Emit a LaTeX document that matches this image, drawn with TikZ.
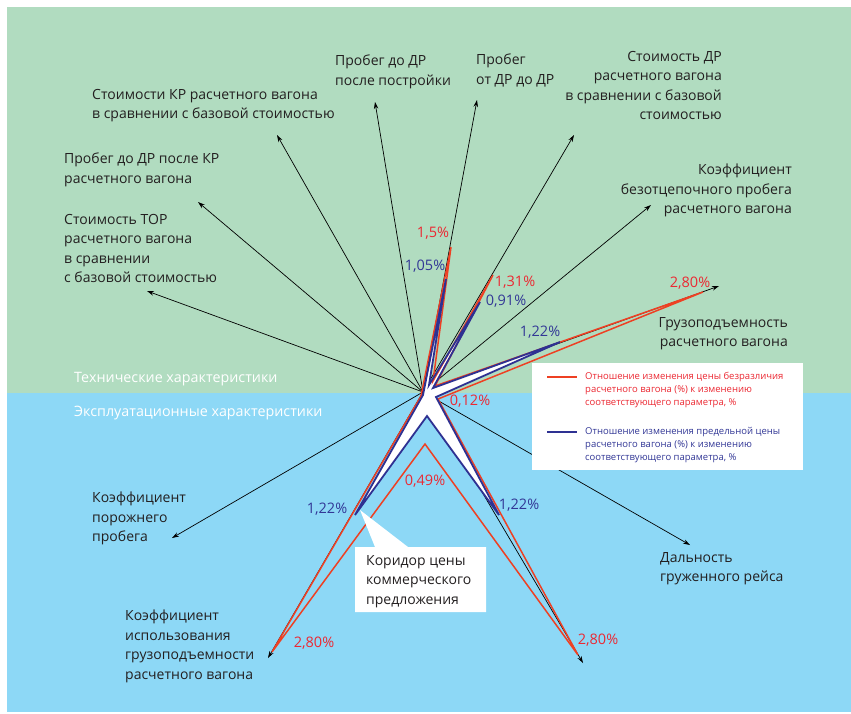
\documentclass[tikz,border=0pt]{standalone}
\usepackage{fontspec}
\setmainfont{Open Sans}
\usetikzlibrary{arrows.meta}
\definecolor{bggreen}{RGB}{177,220,192}
\definecolor{bgblue}{RGB}{141,216,246}
\definecolor{linered}{RGB}{238,64,35}
\definecolor{lineblue}{RGB}{46,49,146}
\definecolor{txtred}{RGB}{236,40,50}
\definecolor{txtblue}{RGB}{50,55,150}
\definecolor{txtdark}{RGB}{35,31,32}
\tikzset{
  lbl/.style={font=\fontsize{14}{19.5}\selectfont, text=txtdark, inner sep=0pt},
  lblL/.style={lbl, anchor=north west, align=left},
  lblR/.style={lbl, anchor=north east, align=right},
  sect/.style={font=\fontsize{14.3}{16}\selectfont, text=white, inner sep=0pt, anchor=north west},
  pr/.style={font=\fontsize{14.5}{16}\selectfont, text=txtred, inner sep=0pt},
  pb/.style={font=\fontsize{14.5}{16}\selectfont, text=txtblue, inner sep=0pt},
  axisline/.style={draw=black, line width=0.7pt, -{Stealth[length=7pt,width=4.5pt]}},
  redpoly/.style={draw=linered, line width=1.5pt, line join=miter},
  bluepoly/.style={draw=lineblue, line width=1.8pt, line join=miter},
  legtxt/.style={font=\fontsize{9.5}{13}\selectfont, inner sep=0pt, anchor=north west, align=left},
}
\begin{document}
\begin{tikzpicture}[x=1pt,y=-1pt]
\useasboundingbox (0,0) rectangle (851,713);
% background
\fill[bggreen] (7,7) rectangle (851,393);
\fill[bgblue] (7,393) rectangle (851,712);
% centre and axis ends
\coordinate (c) at (423,392);
\coordinate (apost) at (375,102);
\coordinate (aot) at (477,100);
\coordinate (astdr) at (574,135);
\coordinate (abez) at (651,205);
\coordinate (agruz) at (719,286);
\coordinate (akr) at (277,135);
\coordinate (aprobkr) at (198,202);
\coordinate (ator) at (147,291);
\coordinate (apor) at (172,538);
\coordinate (aisp) at (268,658);
\coordinate (adal) at (690,545);
\coordinate (ax) at (583,663);
\foreach \t in {apost,aot,astdr,abez,agruz,akr,aprobkr,ator,apor,aisp,adal,ax}
  \draw[axisline] (c) -- (\t);
% corridor (blue polygon filled white)
\fill[white] (423,395) -- (446,279) -- (429,385) -- (480,302) -- (433,388) -- (560,342) -- (436,397) -- (499,515) -- (427,416) -- (355,515) -- cycle;
% red polygon
\draw[redpoly] (421,396) -- (451,247) -- (433,381) -- (493,275) -- (435,386) -- (703,292) -- (438,399) -- (578,655) -- (425,444) -- (272,652) -- cycle;
% blue polygon
\draw[bluepoly] (423,395) -- (446,279) -- (429,385) -- (480,302) -- (433,388) -- (560,342) -- (436,397) -- (499,515) -- (427,416) -- (355,515) -- cycle;
% section titles
\node[sect] (tech) at (74,372) {Технические характеристики};
\node[sect] (expl) at (74,406) {Эксплуатационные характеристики};
% axis labels
\node[lblL] (lpost) at (335,55) {Пробег до ДР\\после постройки};
\node[lblL] (lot) at (476,54) {Пробег\\от ДР до ДР};
\node[lblR] (lstdr) at (722,51) {Стоимость ДР\\расчетного вагона\\в сравнении с базовой\\стоимостью};
\node[lblR] (lbez) at (792,164) {Коэффициент\\безотцепочного пробега\\расчетного вагона};
\node[lblR] (lgruz) at (788,317) {Грузоподъемность\\расчетного вагона};
\node[lblL] (lkr) at (92,89) {Стоимости КР расчетного вагона\\в сравнении с базовой стоимостью};
\node[lblL] (lprobkr) at (64,153) {Пробег до ДР после КР\\расчетного вагона};
\node[lblL] (ltor) at (64,214) {Стоимость ТОР\\расчетного вагона\\в сравнении\\с базовой стоимостью};
\node[lblL] (lpor) at (92,492) {Коэффициент\\порожнего\\пробега};
\node[lblL] (lisp) at (125,610) {Коэффициент\\использования\\грузоподъемности\\расчетного вагона};
\node[lblL] (ldal) at (660,552) {Дальность\\груженного рейса};
% percentages
\node[pr] (p1) at (433,233) {1,5\%};
\node[pb] (p2) at (425,266) {1,05\%};
\node[pr] (p3) at (515,282) {1,31\%};
\node[pb] (p4) at (506,301) {0,91\%};
\node[pb] (p5) at (540,332) {1,22\%};
\node[pr] (p6) at (690,283) {2,80\%};
\node[pr] (p7) at (470,401) {0,12\%};
\node[pr] (p8) at (425,481) {0,49\%};
\node[pb] (p9) at (327,509) {1,22\%};
\node[pb] (p10) at (519,505) {1,22\%};
\node[pr] (p11) at (314,643) {2,80\%};
\node[pr] (p12) at (598,640) {2,80\%};
% callout
\fill[white] (360,510) -- (408,547) -- (486,547) -- (486,612) -- (355,612) -- (355,547) -- (375,547) -- cycle;
\node[lblL] (corr) at (366,555) {Коридор цены\\коммерческого\\предложения};
% legend
\node[fill=white, minimum width=271pt, minimum height=107pt, inner sep=0pt, anchor=north west] (leg) at (532,363) {};
\coordinate (lr1) at (547,377);
\coordinate (lr2) at (577,377);
\coordinate (lb1) at (547,432);
\coordinate (lb2) at (577,432);
\draw[linered, line width=2.5pt] (lr1) -- (lr2);
\draw[lineblue, line width=2.5pt] (lb1) -- (lb2);
\node[legtxt, text=txtred] (legr) at (585,372) {Отношение изменения цены безразличия\\расчетного вагона (\%) к изменению\\соответствующего параметра, \%};
\node[legtxt, text=txtblue] (legb) at (585,427) {Отношение изменения предельной цены\\расчетного вагона (\%) к изменению\\соответствующего параметра, \%};
\end{tikzpicture}
\end{document}
